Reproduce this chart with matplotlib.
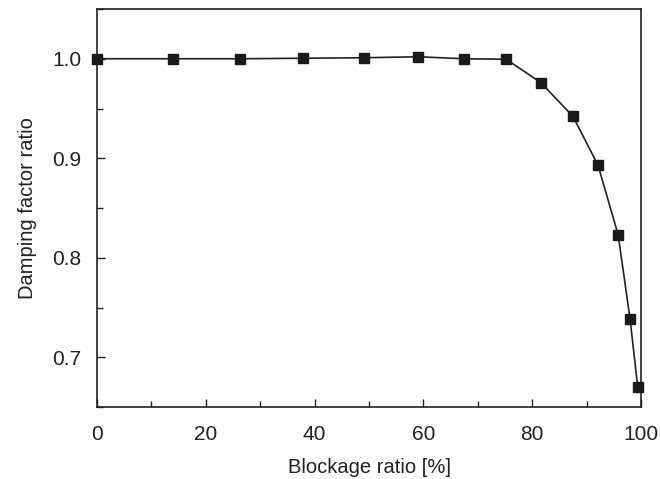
import matplotlib
matplotlib.use("Agg")
import matplotlib.pyplot as plt
from matplotlib.ticker import MultipleLocator

blockage = [0, 14.0, 26.3, 37.9, 49.1, 59.0, 67.5, 75.2, 81.6, 87.5, 92.1, 95.8, 98.0, 99.4]
damping = [1.0, 1.0, 1.0, 1.0005, 1.001, 1.002, 1.0, 0.9995, 0.976, 0.942, 0.893, 0.823, 0.738, 0.670]
yticks = [0.7, 0.8, 0.9, 1.0]
ytick_labels = ['0.7', '0.8', '0.9', '1.0']

plt.rcParams['font.family'] = ['Liberation Sans', 'DejaVu Sans']

fig = plt.figure(figsize=(6.6, 4.79), dpi=100)
ax = fig.add_axes([97/660, 1 - 407/479, (641-97)/660, (407-9)/479])

ax.plot(blockage, damping, color='#222222', lw=1.2, marker='s', markersize=7.5,
        markerfacecolor='#1a1a1a', markeredgecolor='#1a1a1a', clip_on=False, zorder=3)

ax.set_xlim(0, 100)
ax.set_ylim(0.65, 1.05)
ax.xaxis.set_major_locator(MultipleLocator(20))
ax.xaxis.set_minor_locator(MultipleLocator(10))
ax.yaxis.set_minor_locator(MultipleLocator(0.05))
ax.set_yticks(yticks)
ax.set_yticklabels(ytick_labels)
ax.tick_params(which='both', direction='in', labelsize=15, colors='#222222', width=1)
ax.tick_params(which='major', length=6)
ax.tick_params(which='minor', length=4)
ax.tick_params(axis='x', pad=13)
ax.tick_params(axis='y', pad=11)
for s in ax.spines.values():
    s.set_color('#222222')
    s.set_linewidth(1.2)

ax.set_xlabel('Blockage ratio [%]', fontsize=14.5, color='#222222', labelpad=10)
ax.set_ylabel('Damping factor ratio', fontsize=14.5, color='#222222', labelpad=11)

fig.savefig('out.png', dpi=100)
